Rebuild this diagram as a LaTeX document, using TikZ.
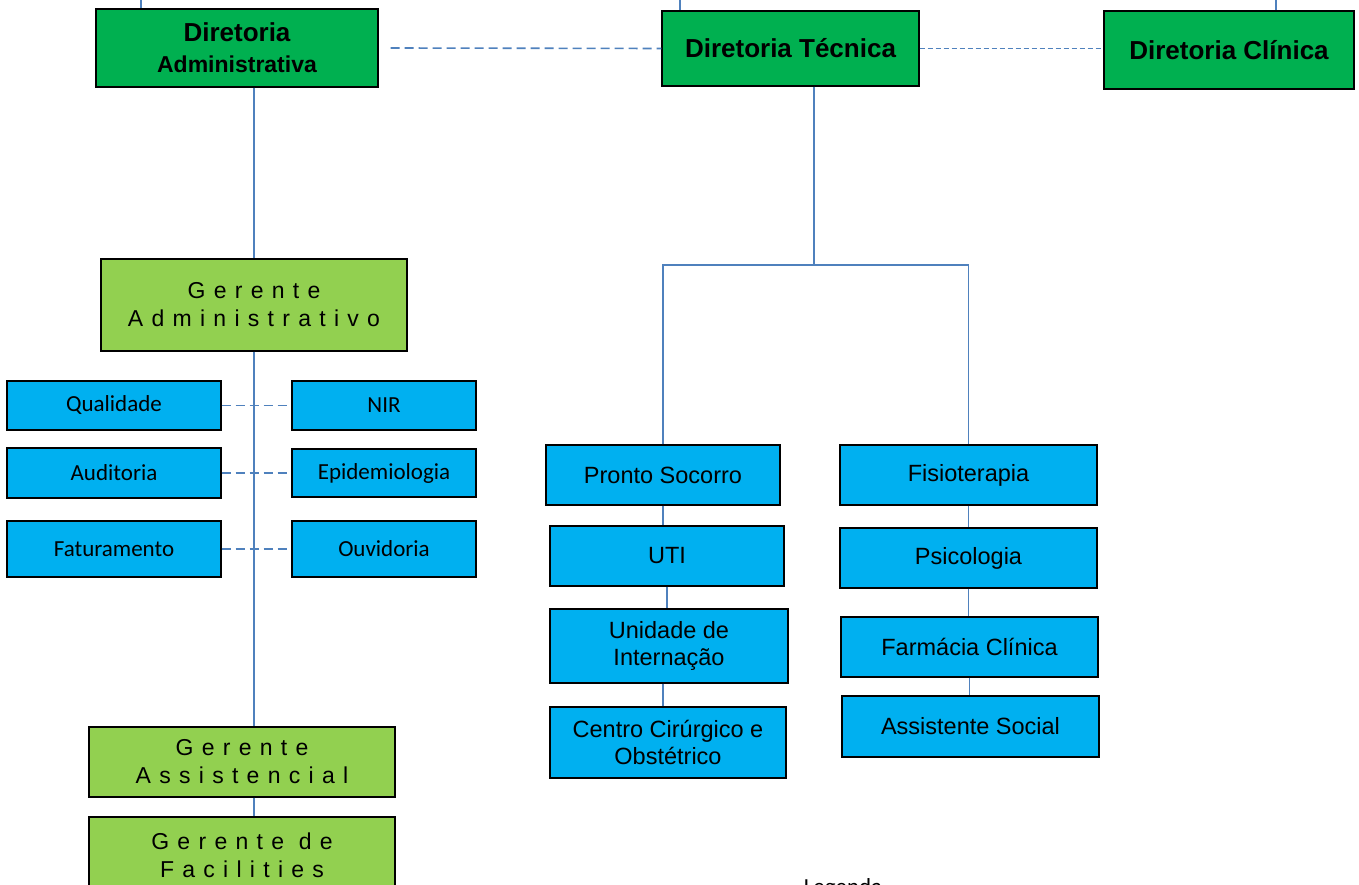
\documentclass[tikz,border=0pt]{standalone}
\usepackage{fontspec}
\setmainfont{Liberation Sans}
\newfontfamily\calfont{Carlito}
\newfontfamily\spcfont[LetterSpace=36]{Liberation Sans}
\definecolor{dgreen}{RGB}{0,176,80}
\definecolor{lgreen}{RGB}{146,208,80}
\definecolor{cyanbox}{RGB}{0,176,240}
\definecolor{conn}{RGB}{79,129,189}
\tikzset{
  base/.style={draw=black, line width=1.3pt, inner sep=0pt, align=center, text=black},
  dir/.style={base, fill=dgreen, font=\bfseries\fontsize{26}{32}\selectfont},
  ger/.style={base, fill=lgreen, font=\spcfont\fontsize{23}{28}\selectfont},
  small/.style={base, fill=cyanbox, font=\calfont\fontsize{23}{27}\selectfont},
  unit/.style={base, fill=cyanbox, font=\fontsize{23.5}{27}\selectfont},
  link/.style={draw=conn, line width=1.4pt},
  dlink/.style={link, line width=1.6pt, dash pattern=on 9pt off 5pt},
}
\begin{document}
\begin{tikzpicture}[x=1pt, y=-1pt]
\fill[white] (0,0) rectangle (1359,885);
\useasboundingbox (0,0) rectangle (1359,885);

% top level
\node[dir, minimum width=282pt, minimum height=78pt] (adm) at (237,48) {Diretoria\\[-1pt]{\fontsize{23}{28}\selectfont Administrativa}};
\node[dir, minimum width=257pt, minimum height=75pt] (tec) at (790.5,48.5) {Diretoria Técnica};
\node[dir, minimum width=250pt, minimum height=78pt] (cli) at (1229,50) {Diretoria Clínica};

% managers
\node[ger, minimum width=306pt, minimum height=92pt] (gadm) at (254,305) {Gerente\\Administrativo};
\node[ger, minimum width=306pt, minimum height=70pt] (gass) at (242,762) {Gerente\\Assistencial};
\node[ger, minimum width=306pt, minimum height=76pt] (gfac) at (242,855) {Gerente de\\Facilities};

% small boxes
\node[small, minimum width=214pt, minimum height=49pt] (qual) at (114,405.5) {Qualidade};
\node[small, minimum width=184pt, minimum height=49pt] (nir) at (384,405.5) {NIR};
\node[small, minimum width=214pt, minimum height=50pt] (aud) at (114,473) {Auditoria};
\node[small, minimum width=184pt, minimum height=48pt] (epi) at (384,473) {Epidemiologia};
\node[small, minimum width=214pt, minimum height=56pt] (fat) at (114,549) {Faturamento};
\node[small, minimum width=184pt, minimum height=56pt] (ouv) at (384,549) {Ouvidoria};

% technical units
\node[unit, minimum width=234pt, minimum height=60pt] (ps) at (663,475) {Pronto Socorro};
\node[unit, minimum width=234pt, minimum height=60pt] (uti) at (667,556) {UTI};
\node[unit, minimum width=238pt, minimum height=74pt] (uint) at (669,646) {Unidade de\\Internação};
\node[unit, minimum width=236pt, minimum height=71pt] (cc) at (668,742.5) {Centro Cirúrgico e\\Obstétrico};
\node[unit, minimum width=257pt, minimum height=60pt] (fis) at (968.5,475) {Fisioterapia};
\node[unit, minimum width=257pt, minimum height=60pt] (psi) at (968.5,558) {Psicologia};
\node[unit, minimum width=257pt, minimum height=60pt] (farm) at (969.5,647) {Farmácia Clínica};
\node[unit, minimum width=257pt, minimum height=61pt] (ass) at (970.5,726.5) {Assistente Social};

\node[font=\calfont\fontsize{23}{27}\selectfont, anchor=base, inner sep=0pt] (leg) at (843,894) {Legenda};

% connectors to the top (off picture)
\coordinate (t1) at (141,0);
\coordinate (t2) at (680,0);
\coordinate (t3) at (1276,0);
\draw[link] (t1) -- (t1 |- adm.north);
\draw[link] (t2) -- (t2 |- tec.north);
\draw[link] (t3) -- (t3 |- cli.north);

% dashed links between directors
\draw[dlink] ([xshift=12pt]adm.east) -- (tec.west);
\draw[link, line width=1.1pt, dash pattern=on 5pt off 3pt] (tec.east) -- (cli.west |- tec.east);

% administrative branch
\draw[link] (gadm.north |- adm.south) -- (gadm.north);
\draw[link] (gadm.south) -- (gadm.south |- gass.north);
\draw[link] (gadm.south |- gass.south) -- (gadm.south |- gfac.north);
\draw[dlink] (qual.east) -- (nir.west);
\draw[dlink] (aud.east) -- (epi.west);
\draw[dlink] (fat.east) -- (ouv.west);

% technical branch
\coordinate (tb) at (814,265);
\draw[link] (tb |- tec.south) -- (tb);
\draw[link] (ps.north) |- (fis.north |- tb) -- (fis.north);
\draw[link] (ps.south) -- (ps.south |- uti.north);
\draw[link] (uti.south) -- (uti.south |- uint.north);
\draw[link] (ps.south |- uint.south) -- (ps.south |- cc.north);
\draw[link] (fis.south) -- (fis.south |- psi.north);
\draw[link] (psi.south) -- (psi.south |- farm.north);
\draw[link] (farm.south) -- (farm.south |- ass.north);
\end{tikzpicture}
\end{document}
